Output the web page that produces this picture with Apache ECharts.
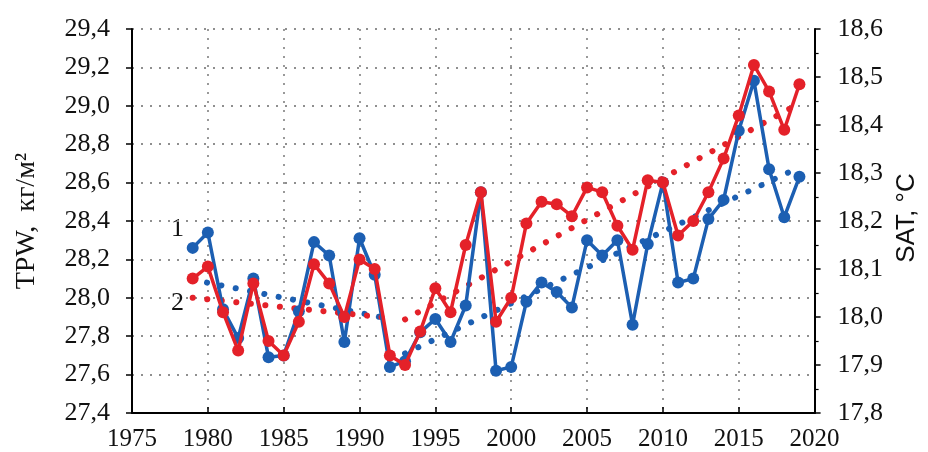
<!DOCTYPE html>
<html>
<head>
<meta charset="utf-8">
<script src="https://cdn.jsdelivr.net/npm/echarts@6/dist/echarts.min.js"></script>
<style>html,body{margin:0;padding:0;background:#fff}#c{width:928px;height:452px}</style>
</head>
<body>
<div id="c"></div>
<script>
const years = [1979,1980,1981,1982,1983,1984,1985,1986,1987,1988,1989,1990,1991,1992,1993,1994,1995,1996,1997,1998,1999,2000,2001,2002,2003,2004,2005,2006,2007,2008,2009,2010,2011,2012,2013,2014,2015,2016,2017,2018,2019];
// curve 1: TPW, kg/m2 (left axis)
const tpw = [28.26,28.34,27.94,27.79,28.10,27.69,27.70,27.93,28.29,28.22,27.77,28.31,28.12,27.64,27.67,27.82,27.89,27.77,27.96,28.55,27.62,27.64,27.98,28.08,28.03,27.95,28.30,28.22,28.30,27.86,28.28,28.60,28.08,28.10,28.41,28.51,28.87,29.13,28.67,28.42,28.63];
// curve 2: SAT, °C (right axis)
const sat = [18.08,18.105,18.01,17.93,18.07,17.95,17.92,17.99,18.11,18.07,18.00,18.12,18.10,17.92,17.90,17.97,18.06,18.01,18.15,18.26,17.99,18.04,18.195,18.24,18.235,18.21,18.27,18.26,18.19,18.14,18.285,18.28,18.17,18.20,18.26,18.33,18.42,18.525,18.47,18.39,18.485];
// trend lines (two segments each)
const tpwTrendA = [[1979,28.094],[1992,27.89]];
const tpwTrendB = [[1993,27.71],[2019,28.68]];
const satTrendA = [[1979,18.04],[1992,17.998]];
const satTrendB = [[1993,17.995],[2019,18.445]];
const xTicks = {min:1975, max:2020, step:5};
const leftTicks = {min:27.4, max:29.4, step:0.2};
const rightTicks = {min:17.8, max:18.6, step:0.1};

const BLUE = '#1c5fb2', RED = '#e42129';
const serif = '"Liberation Serif","DejaVu Serif",serif';
const fmt = v => v.toFixed(1).replace('.', ',');
const grid = {type:[2,7], color:'#8f8f8f', width:1.8};

const chart = echarts.init(document.getElementById('c'), null, {renderer:'canvas'});
const trendStyle = c => ({color:c, width:6, type:[0.1, 14.5], cap:'round'});
chart.setOption({
  animation:false,
  backgroundColor:'#fff',
  grid:{left:132, right:108, top:29, bottom:39},
  xAxis:{type:'value', min:xTicks.min, max:xTicks.max, interval:xTicks.step,
    axisLine:{lineStyle:{color:'#000', width:2}},
    axisTick:{show:true, length:6, inside:true, lineStyle:{color:'#000', width:1.5}},
    axisLabel:{color:'#111', fontFamily:serif, fontSize:25, margin:14, formatter:v=>String(v)},
    splitLine:{show:true, lineStyle:grid}},
  yAxis:[
    {type:'value', min:leftTicks.min, max:leftTicks.max, interval:leftTicks.step,
     name:'TPW,  кг/м²', nameLocation:'middle', nameGap:91,
     nameTextStyle:{color:'#111', fontFamily:serif, fontSize:28},
     axisLine:{show:true, lineStyle:{color:'#000', width:2}},
     axisTick:{show:true, length:6, lineStyle:{color:'#000', width:1.5}},
     axisLabel:{color:'#111', fontFamily:serif, fontSize:26, margin:22, formatter:fmt},
     splitLine:{show:true, lineStyle:grid}},
    {type:'value', min:rightTicks.min, max:rightTicks.max, interval:rightTicks.step, position:'right',
     name:'SAT, °C', nameLocation:'middle', nameGap:78,
     nameTextStyle:{color:'#111', fontFamily:'"Liberation Sans",Arial,sans-serif', fontSize:26, padding:[0,0,0,6]},
     axisLine:{show:true, lineStyle:{color:'#000', width:2}},
     axisTick:{show:true, length:6, lineStyle:{color:'#000', width:1.5}},
     minorTick:{show:true, splitNumber:2, length:4, lineStyle:{color:'#000', width:1.2}},
     axisLabel:{color:'#111', fontFamily:serif, fontSize:26, margin:23, formatter:fmt},
     splitLine:{show:false}}
  ],
  series:[
    {type:'line', yAxisIndex:0, data:tpwTrendA, symbol:'none', lineStyle:trendStyle(BLUE), z:1},
    {type:'line', yAxisIndex:0, data:tpwTrendB, symbol:'none', lineStyle:trendStyle(BLUE), z:1},
    {type:'line', yAxisIndex:1, data:satTrendA, symbol:'none', lineStyle:trendStyle(RED), z:1},
    {type:'line', yAxisIndex:1, data:satTrendB, symbol:'none', lineStyle:trendStyle(RED), z:1},
    {type:'line', yAxisIndex:0, data:years.map((y,i)=>[y,tpw[i]]), symbol:'circle', symbolSize:12,
     itemStyle:{color:BLUE}, lineStyle:{color:BLUE, width:3.5}, z:3},
    {type:'line', yAxisIndex:1, data:years.map((y,i)=>[y,sat[i]]), symbol:'circle', symbolSize:12,
     itemStyle:{color:RED}, lineStyle:{color:RED, width:3.5}, z:4}
  ],
  graphic:[
    {type:'text', left:171, top:216, style:{text:'1', font:'26px '+serif, fill:'#111'}},
    {type:'text', left:171, top:290, style:{text:'2', font:'26px '+serif, fill:'#111'}}
  ]
});
</script>
</body>
</html>
